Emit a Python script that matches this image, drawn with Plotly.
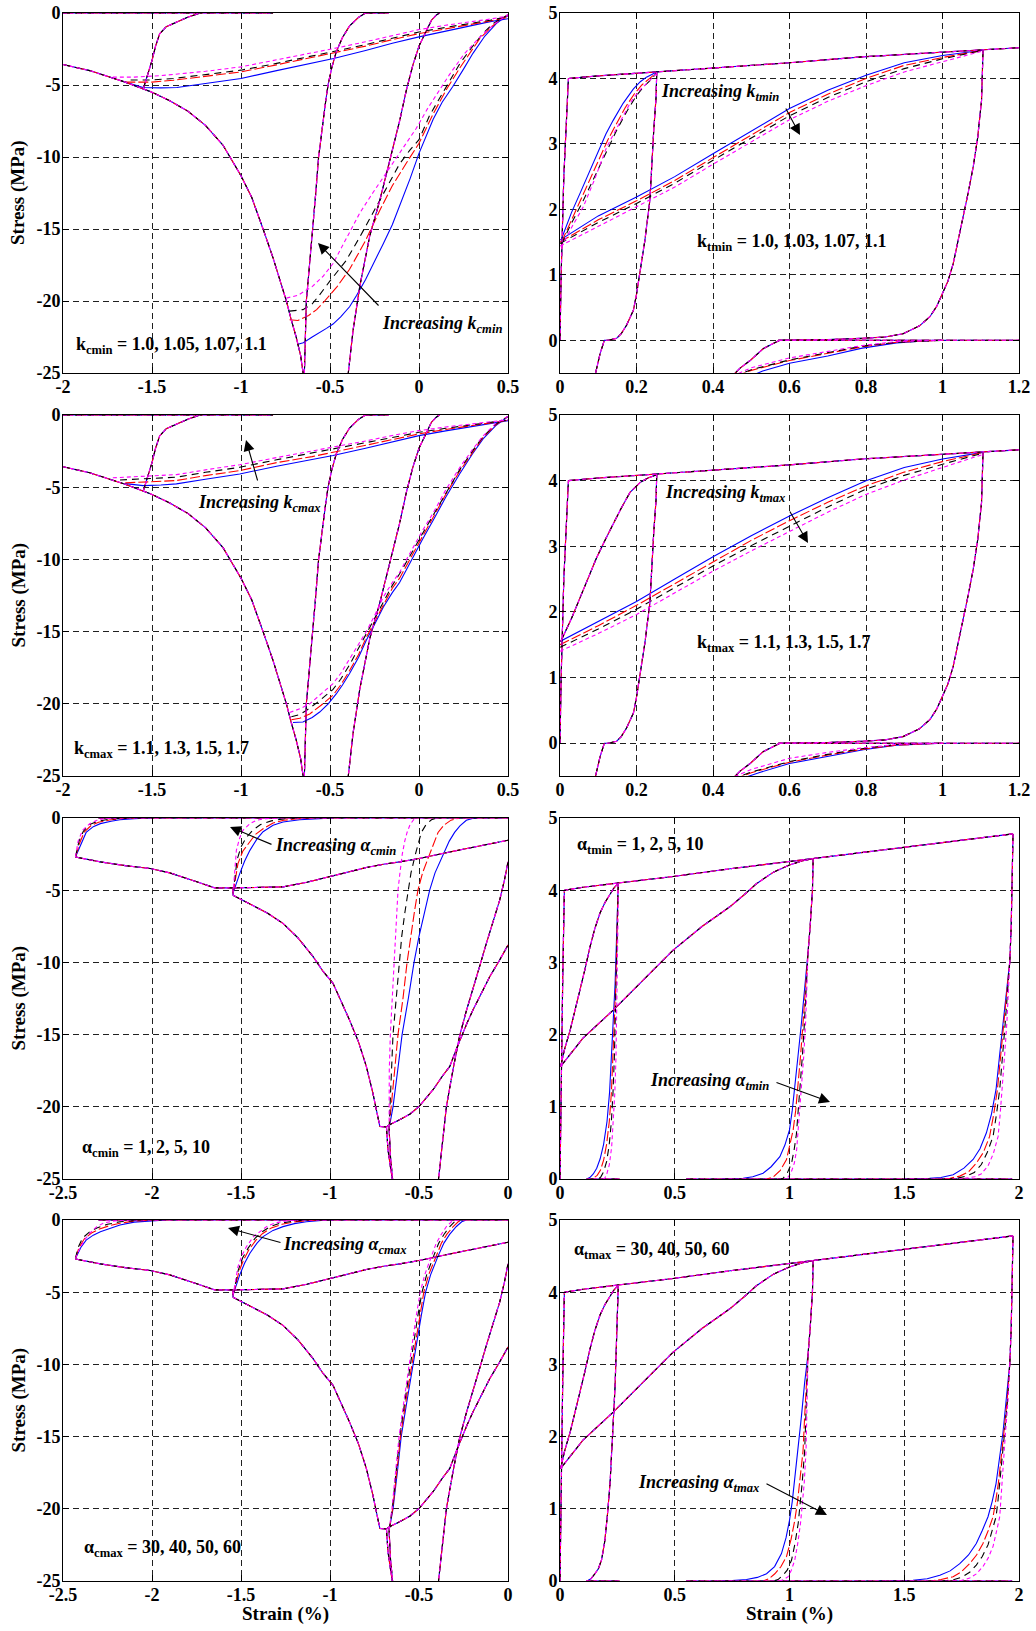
import plotly.graph_objects as go

W, H = 1036, 1631

COLORS = ["#0000ff", "#ff0000", "#000000", "#ff00ff"]
DASHES = ["solid", "10px,3px", "7px,5px", "4px,3px"]

# ================= compression panels, k parameters =================
ck_zero_a = [(-2.0, 0.0), (-0.82, 0.0)]
ck_zero_b = [(-0.30, 0.0), (-0.17, 0.0)]
ck_envelope = [(-2.0, -3.58), (-1.85, -4.0), (-1.65, -4.8), (-1.55, -5.3), (-1.5, -5.5),
               (-1.4, -6.1), (-1.3, -6.8), (-1.2, -7.8), (-1.1, -9.2), (-1.0, -11.3),
               (-0.94, -12.8), (-0.876, -15.0), (-0.82, -17.0), (-0.77, -19.0), (-0.745, -20.0),
               (-0.72, -21.2), (-0.69, -22.5), (-0.665, -23.8), (-0.645, -25.5)]
ck_unload = [(-0.645, -25.5), (-0.64, -23.0), (-0.633, -20.0), (-0.615, -17.5), (-0.596, -15.0),
             (-0.58, -12.5), (-0.564, -10.0), (-0.545, -8.0), (-0.525, -6.2), (-0.511, -5.0),
             (-0.49, -3.8), (-0.465, -2.7), (-0.43, -1.7), (-0.39, -0.9), (-0.34, -0.3), (-0.3, 0.0)]
ck_unload_upper = [(-1.55, -5.3), (-1.525, -4.3), (-1.5, -3.3), (-1.48, -2.3), (-1.457, -1.45),
                   (-1.42, -0.95), (-1.36, -0.62), (-1.3, -0.3), (-1.23, 0.0)]
ck_steep2 = [(-0.4, -25.3), (-0.37, -22.0), (-0.333, -19.0), (-0.277, -15.5), (-0.22, -13.0),
             (-0.184, -11.2), (-0.146, -9.2), (-0.109, -7.5), (-0.07, -5.3), (-0.034, -3.6),
             (0.0, -2.3), (0.041, -1.2), (0.07, -0.5), (0.097, -0.15), (0.115, 0.0)]

kcmin_reload_low = [
    [(-0.68, -23.0), (-0.65, -22.9), (-0.6, -22.5), (-0.558, -22.2), (-0.52, -21.9), (-0.483, -21.6),
     (-0.44, -21.1), (-0.39, -20.4), (-0.35, -19.6), (-0.3, -18.5), (-0.25, -17.3), (-0.2, -16.0),
     (-0.15, -14.7), (-0.109, -13.4), (-0.05, -11.5), (0.0, -9.75), (0.079, -7.4), (0.13, -6.2),
     (0.19, -5.1), (0.25, -3.9), (0.303, -2.8), (0.37, -1.6), (0.434, -0.74), (0.47, -0.4), (0.5, -0.2)],
    [(-0.727, -21.3), (-0.68, -21.35), (-0.62, -21.0), (-0.575, -20.6), (-0.53, -20.0), (-0.46, -19.0),
     (-0.39, -17.8), (-0.3, -15.8), (-0.22, -13.7), (-0.15, -12.0), (-0.07, -10.4), (0.0, -9.05),
     (0.08, -7.0), (0.15, -5.4), (0.23, -3.8), (0.29, -2.7), (0.34, -1.8), (0.4, -1.05), (0.45, -0.5),
     (0.5, -0.15)],
    [(-0.727, -20.7), (-0.652, -20.6), (-0.6, -20.2), (-0.56, -19.6), (-0.5, -18.6), (-0.41, -17.2),
     (-0.33, -15.5), (-0.26, -13.9), (-0.18, -12.0), (-0.11, -10.5), (-0.05, -9.5), (0.0, -8.8),
     (0.06, -7.1), (0.15, -5.2), (0.23, -3.5), (0.29, -2.5), (0.36, -1.4), (0.42, -0.7), (0.5, -0.12)],
    [(-0.745, -19.8), (-0.68, -19.6), (-0.6, -19.0), (-0.54, -18.3), (-0.483, -17.4), (-0.41, -15.7),
     (-0.333, -13.9), (-0.26, -12.5), (-0.2, -11.4), (-0.1, -9.6), (-0.015, -8.0), (0.05, -6.6),
     (0.17, -4.3), (0.25, -2.9), (0.34, -1.7), (0.42, -0.8), (0.5, -0.1)],
]
kcmin_reload_up = [
    [(-1.65, -4.8), (-1.55, -5.17), (-1.45, -5.2), (-1.36, -5.17), (-1.2, -4.9), (-1.0, -4.55),
     (-0.8, -4.0), (-0.6, -3.5), (-0.48, -3.16), (-0.3, -2.6), (-0.15, -2.1), (0.0, -1.66),
     (0.15, -1.25), (0.27, -0.97), (0.4, -0.6), (0.5, -0.4)],
    [(-1.65, -4.8), (-1.5, -4.8), (-1.38, -4.67), (-1.2, -4.4), (-1.0, -4.09), (-0.8, -3.6),
     (-0.6, -3.1), (-0.48, -2.77), (-0.3, -2.3), (-0.15, -1.85), (0.0, -1.43), (0.15, -1.1),
     (0.3, -0.8), (0.4, -0.55), (0.5, -0.3)],
    [(-1.62, -4.65), (-1.5, -4.65), (-1.38, -4.55), (-1.2, -4.3), (-1.0, -3.97), (-0.8, -3.5),
     (-0.6, -2.98), (-0.48, -2.63), (-0.3, -2.2), (-0.15, -1.75), (0.0, -1.32), (0.15, -1.0),
     (0.3, -0.72), (0.4, -0.5), (0.5, -0.25)],
    [(-1.72, -4.45), (-1.6, -4.45), (-1.45, -4.35), (-1.2, -4.05), (-1.0, -3.74), (-0.8, -3.25),
     (-0.6, -2.8), (-0.48, -2.47), (-0.3, -2.0), (-0.15, -1.55), (0.0, -1.15), (0.15, -0.85),
     (0.3, -0.6), (0.4, -0.42), (0.5, -0.2)],
]
kcmax_reload_low = [
    [(-0.708, -21.3), (-0.652, -21.26), (-0.6, -20.95), (-0.558, -20.57), (-0.51, -20.0), (-0.464, -19.3),
     (-0.43, -18.7), (-0.39, -17.9), (-0.34, -16.8), (-0.296, -15.6), (-0.25, -14.5), (-0.2, -13.3),
     (-0.15, -12.3), (-0.109, -11.6), (-0.07, -10.7), (-0.034, -9.85), (0.02, -8.6), (0.079, -7.3),
     (0.15, -5.7), (0.228, -4.08), (0.3, -2.7), (0.36, -1.65), (0.43, -0.75), (0.5, -0.1)],
    [(-0.717, -21.1), (-0.67, -21.0), (-0.614, -20.7), (-0.55, -20.1), (-0.483, -19.4), (-0.44, -18.7),
     (-0.39, -17.7), (-0.34, -16.6), (-0.296, -15.4), (-0.25, -14.3), (-0.2, -13.1), (-0.15, -12.0),
     (-0.109, -11.3), (-0.07, -10.4), (-0.034, -9.6), (0.02, -8.4), (0.079, -7.1), (0.15, -5.5),
     (0.228, -3.9), (0.3, -2.6), (0.36, -1.55), (0.43, -0.7), (0.5, -0.1)],
    [(-0.717, -20.9), (-0.67, -20.75), (-0.633, -20.46), (-0.56, -19.8), (-0.483, -19.0), (-0.44, -18.3),
     (-0.39, -17.3), (-0.34, -16.2), (-0.296, -15.15), (-0.25, -14.1), (-0.2, -12.9), (-0.15, -11.8),
     (-0.109, -11.0), (-0.07, -10.2), (-0.034, -9.4), (0.02, -8.2), (0.079, -6.95), (0.15, -5.35),
     (0.228, -3.8), (0.3, -2.5), (0.36, -1.5), (0.43, -0.65), (0.5, -0.1)],
    [(-0.727, -20.6), (-0.67, -20.35), (-0.614, -20.0), (-0.55, -19.3), (-0.483, -18.6), (-0.44, -17.9),
     (-0.39, -16.9), (-0.34, -15.9), (-0.296, -15.0), (-0.25, -13.9), (-0.2, -12.6), (-0.15, -11.6),
     (-0.109, -10.9), (-0.07, -10.0), (-0.034, -9.2), (0.02, -8.0), (0.079, -6.8), (0.15, -5.2),
     (0.228, -3.65), (0.3, -2.4), (0.36, -1.45), (0.43, -0.6), (0.5, -0.1)],
]
kcmax_reload_up = [
    [(-1.65, -4.75), (-1.55, -4.89), (-1.45, -4.85), (-1.363, -4.77), (-1.2, -4.45), (-1.007, -4.08),
     (-0.8, -3.55), (-0.6, -3.1), (-0.483, -2.81), (-0.3, -2.3), (-0.15, -1.85), (0.0, -1.43),
     (0.15, -1.1), (0.266, -0.85), (0.4, -0.58), (0.5, -0.39)],
    [(-1.65, -4.7), (-1.5, -4.62), (-1.363, -4.54), (-1.2, -4.2), (-1.007, -3.85), (-0.8, -3.3),
     (-0.6, -2.88), (-0.483, -2.58), (-0.3, -2.1), (-0.15, -1.7), (0.0, -1.31), (0.15, -1.0),
     (0.3, -0.75), (0.4, -0.55), (0.5, -0.37)],
    [(-1.68, -4.5), (-1.5, -4.4), (-1.363, -4.31), (-1.2, -3.97), (-1.007, -3.62), (-0.8, -3.1),
     (-0.6, -2.65), (-0.483, -2.35), (-0.3, -1.92), (-0.15, -1.55), (0.0, -1.2), (0.15, -0.92),
     (0.3, -0.68), (0.4, -0.5), (0.5, -0.35)],
    [(-1.72, -4.35), (-1.55, -4.25), (-1.363, -4.13), (-1.2, -3.8), (-1.007, -3.44), (-0.8, -2.95),
     (-0.6, -2.5), (-0.483, -2.24), (-0.3, -1.8), (-0.15, -1.42), (0.0, -1.08), (0.15, -0.83),
     (0.3, -0.62), (0.4, -0.47), (0.5, -0.33)],
]

# ================= tension panels, k parameters =================
tk_initial = [(0.0, 0.0), (0.003, 1.0), (0.01, 2.5), (0.022, 4.0)]
tk_envelope = [(0.022, 4.0), (0.1, 4.04), (0.253, 4.1), (0.4, 4.16), (0.6, 4.24), (0.79, 4.33),
               (1.0, 4.4), (1.106, 4.43), (1.2, 4.47)]
tk_unload1 = [(0.253, 4.1), (0.251, 3.7), (0.245, 3.2), (0.235, 2.14), (0.222, 1.53), (0.209, 1.02),
              (0.2, 0.7), (0.192, 0.46), (0.174, 0.23), (0.16, 0.1), (0.148, 0.03), (0.126, 0.0),
              (0.116, 0.0), (0.105, -0.2), (0.091, -0.55)]
tk_zero = [(0.57, 0.0), (1.2, 0.0)]
tk_unload2 = [(1.106, 4.43), (1.104, 4.0), (1.102, 3.66), (1.092, 3.1), (1.08, 2.64), (1.067, 2.25),
              (1.054, 1.88), (1.04, 1.5), (1.028, 1.17), (1.014, 0.9), (1.0, 0.71), (0.985, 0.52),
              (0.967, 0.36), (0.94, 0.22), (0.897, 0.1), (0.85, 0.05), (0.79, 0.03), (0.7, 0.01),
              (0.575, 0.0)]
tk_unload3 = [(0.575, 0.0), (0.56, -0.04), (0.531, -0.13), (0.497, -0.31), (0.47, -0.43), (0.45, -0.55)]
tk_reload1_common = [(0.002, 1.55), (0.03, 1.9), (0.052, 2.21), (0.075, 2.52), (0.096, 2.83),
                     (0.12, 3.12), (0.139, 3.34), (0.16, 3.58), (0.183, 3.82), (0.209, 3.97),
                     (0.23, 4.04), (0.253, 4.09)]

ktmin_reload1 = [
    [(0.004, 1.55), (0.03, 1.95), (0.052, 2.24), (0.075, 2.55), (0.096, 2.85), (0.12, 3.15),
     (0.139, 3.36), (0.165, 3.62), (0.192, 3.84), (0.21, 3.95), (0.226, 4.02), (0.253, 4.1)],
    [(0.004, 1.5), (0.03, 1.84), (0.056, 2.16), (0.08, 2.48), (0.102, 2.76), (0.125, 3.06),
     (0.145, 3.28), (0.17, 3.55), (0.195, 3.77), (0.214, 3.9), (0.232, 3.99), (0.253, 4.09)],
    [(0.004, 1.47), (0.03, 1.79), (0.058, 2.1), (0.084, 2.42), (0.107, 2.72), (0.13, 3.0),
     (0.15, 3.23), (0.175, 3.5), (0.199, 3.73), (0.218, 3.87), (0.236, 3.97), (0.253, 4.09)],
    [(0.004, 1.42), (0.03, 1.72), (0.061, 2.04), (0.09, 2.45), (0.122, 2.95), (0.15, 3.25),
     (0.183, 3.62), (0.205, 3.8), (0.226, 3.93), (0.24, 4.0), (0.253, 4.08)],
]
ktmin_reload2 = [
    [(0.0, 1.53), (0.1, 1.9), (0.2, 2.19), (0.3, 2.5), (0.4, 2.85), (0.5, 3.2), (0.6, 3.54),
     (0.7, 3.82), (0.8, 4.05), (0.9, 4.24), (1.0, 4.35), (1.106, 4.43)],
    [(0.0, 1.5), (0.1, 1.84), (0.2, 2.13), (0.3, 2.44), (0.4, 2.79), (0.5, 3.14), (0.6, 3.48),
     (0.7, 3.76), (0.8, 4.0), (0.9, 4.2), (1.0, 4.32), (1.106, 4.43)],
    [(0.0, 1.48), (0.1, 1.8), (0.2, 2.09), (0.3, 2.4), (0.4, 2.75), (0.5, 3.09), (0.6, 3.43),
     (0.7, 3.71), (0.8, 3.95), (0.9, 4.15), (1.0, 4.3), (1.106, 4.43)],
    [(0.0, 1.44), (0.1, 1.74), (0.2, 2.03), (0.3, 2.34), (0.4, 2.69), (0.5, 3.03), (0.6, 3.37),
     (0.7, 3.65), (0.8, 3.89), (0.9, 4.1), (1.0, 4.26), (1.106, 4.42)],
]
ktmin_reload_low = [
    [(0.497, -0.55), (0.53, -0.47), (0.6, -0.35), (0.7, -0.24), (0.79, -0.12), (0.88, -0.04),
     (0.95, -0.01), (1.0, 0.0)],
    [(0.46, -0.55), (0.5, -0.46), (0.6, -0.31), (0.7, -0.2), (0.79, -0.1), (0.88, -0.03),
     (0.95, -0.01), (1.0, 0.0)],
    [(0.455, -0.55), (0.5, -0.45), (0.6, -0.3), (0.7, -0.19), (0.79, -0.09), (0.88, -0.03), (1.0, 0.0)],
    [(0.45, -0.55), (0.5, -0.42), (0.6, -0.27), (0.7, -0.17), (0.79, -0.08), (0.88, -0.02), (1.0, 0.0)],
]
ktmax_reload2 = [
    [(0.0, 1.55), (0.1, 1.85), (0.2, 2.16), (0.3, 2.5), (0.4, 2.84), (0.5, 3.16), (0.6, 3.46),
     (0.7, 3.74), (0.8, 4.0), (0.9, 4.2), (1.0, 4.33), (1.106, 4.43)],
    [(0.0, 1.5), (0.1, 1.79), (0.2, 2.1), (0.3, 2.43), (0.4, 2.77), (0.5, 3.09), (0.6, 3.39),
     (0.7, 3.67), (0.8, 3.92), (0.9, 4.13), (1.0, 4.29), (1.106, 4.43)],
    [(0.0, 1.46), (0.1, 1.74), (0.2, 2.04), (0.3, 2.37), (0.4, 2.7), (0.5, 3.01), (0.6, 3.31),
     (0.7, 3.6), (0.8, 3.87), (0.9, 4.08), (1.0, 4.25), (1.106, 4.42)],
    [(0.0, 1.4), (0.1, 1.67), (0.2, 1.96), (0.3, 2.29), (0.4, 2.62), (0.5, 2.93), (0.6, 3.23),
     (0.7, 3.52), (0.8, 3.79), (0.9, 4.01), (1.0, 4.2), (1.106, 4.4)],
]
ktmax_reload_low = [
    [(0.47, -0.55), (0.52, -0.45), (0.6, -0.31), (0.7, -0.2), (0.793, -0.1), (0.88, -0.03),
     (0.95, -0.01), (1.0, 0.0)],
    [(0.455, -0.55), (0.5, -0.45), (0.6, -0.29), (0.7, -0.18), (0.793, -0.09), (0.88, -0.03), (1.0, 0.0)],
    [(0.45, -0.55), (0.5, -0.44), (0.6, -0.28), (0.7, -0.17), (0.793, -0.08), (0.88, -0.02), (1.0, 0.0)],
    [(0.44, -0.55), (0.5, -0.4), (0.6, -0.23), (0.7, -0.14), (0.793, -0.07), (0.88, -0.02), (1.0, 0.0)],
]

# ================= compression panels, alpha parameters =================
ca_zero = [(-2.3, 0.0), (0.0, 0.0)]
ca_envelope = [(-2.43, -2.7), (-2.29, -3.04), (-2.15, -3.3), (-2.01, -3.5), (-1.9, -3.8),
               (-1.826, -4.08), (-1.74, -4.45), (-1.648, -4.84), (-1.545, -4.84), (-1.545, -5.35)]
ca_env2 = [(-1.545, -5.35), (-1.433, -6.04), (-1.35, -6.6), (-1.264, -7.3), (-1.18, -8.3),
           (-1.095, -9.6), (-1.04, -10.6), (-0.983, -11.45), (-0.94, -12.6), (-0.89, -14.0),
           (-0.84, -15.5), (-0.796, -17.2), (-0.76, -19.0), (-0.72, -21.36), (-0.683, -21.4)]
ca_env_down = [(-0.683, -21.4), (-0.674, -23.0), (-0.66, -24.2), (-0.646, -25.3)]
ca_reload_bottom = [(-0.683, -21.4), (-0.665, -21.24), (-0.609, -20.9), (-0.55, -20.5), (-0.5, -19.98),
                    (-0.46, -19.4), (-0.42, -18.8), (-0.37, -17.9), (-0.327, -17.2), (-0.29, -16.0),
                    (-0.262, -15.1), (-0.23, -14.2), (-0.197, -13.3), (-0.15, -12.1), (-0.103, -11.0),
                    (-0.05, -9.9), (0.0, -8.8)]
ca_reload_upper = [(-1.545, -4.84), (-1.4, -4.82), (-1.264, -4.77), (-1.13, -4.45), (-1.0, -4.08),
                   (-0.9, -3.75), (-0.796, -3.43), (-0.7, -3.2), (-0.609, -3.04), (-0.5, -2.81),
                   (-0.327, -2.35), (-0.14, -1.89), (0.0, -1.54)]
ca_steep2 = [(-0.393, -25.3), (-0.37, -22.5), (-0.346, -19.98), (-0.31, -17.5), (-0.272, -15.1),
             (-0.235, -13.4), (-0.197, -11.9), (-0.16, -10.3), (-0.122, -8.7), (-0.085, -7.2),
             (-0.047, -5.7), (-0.02, -4.3), (0.0, -3.04)]
ca_steep_base = [(-0.646, -25.3), (-0.66, -23.5), (-0.668, -21.5)]

acmin_up_left = [
    [(-2.43, -2.7), (-2.4, -1.8), (-2.37, -1.0), (-2.33, -0.6), (-2.29, -0.39), (-2.23, -0.22),
     (-2.18, -0.12), (-2.1, -0.04), (-2.01, 0.0)],
    [(-2.43, -2.7), (-2.405, -1.7), (-2.38, -0.95), (-2.34, -0.5), (-2.3, -0.3), (-2.24, -0.14),
     (-2.18, -0.05), (-2.1, 0.0)],
    [(-2.43, -2.7), (-2.41, -1.6), (-2.385, -0.9), (-2.35, -0.45), (-2.31, -0.24), (-2.25, -0.1),
     (-2.18, -0.02), (-2.13, 0.0)],
    [(-2.43, -2.7), (-2.415, -1.6), (-2.39, -0.85), (-2.35, -0.4), (-2.31, -0.16), (-2.27, -0.05),
     (-2.2, 0.0)],
]
acmin_up_mid = [
    [(-1.545, -5.2), (-1.53, -4.6), (-1.507, -3.85), (-1.48, -3.0), (-1.45, -2.24), (-1.41, -1.45),
     (-1.376, -0.95), (-1.32, -0.5), (-1.264, -0.28), (-1.17, -0.12), (-1.08, -0.04), (-0.98, 0.0)],
    [(-1.545, -5.25), (-1.53, -4.2), (-1.517, -3.16), (-1.49, -2.3), (-1.46, -1.77), (-1.42, -1.15),
     (-1.376, -0.74), (-1.32, -0.35), (-1.26, -0.16), (-1.18, -0.05), (-1.1, 0.0)],
    [(-1.545, -5.25), (-1.535, -4.0), (-1.522, -2.9), (-1.5, -2.0), (-1.47, -1.35), (-1.43, -0.8),
     (-1.39, -0.45), (-1.33, -0.2), (-1.26, -0.06), (-1.18, 0.0)],
    [(-1.545, -5.3), (-1.535, -3.8), (-1.526, -2.24), (-1.508, -1.4), (-1.489, -0.85), (-1.45, -0.4),
     (-1.414, -0.16), (-1.36, -0.04), (-1.3, 0.0)],
]
acmin_steep = [
    [(-0.668, -21.5), (-0.646, -20.0), (-0.62, -17.5), (-0.595, -15.0), (-0.56, -12.5), (-0.528, -10.0),
     (-0.5, -8.2), (-0.47, -6.6), (-0.44, -5.0), (-0.41, -3.8), (-0.365, -2.5), (-0.33, -1.6),
     (-0.3, -1.0), (-0.27, -0.55), (-0.234, -0.16), (-0.2, -0.03), (-0.17, 0.0)],
    [(-0.668, -21.5), (-0.655, -20.0), (-0.637, -17.5), (-0.618, -15.0), (-0.59, -12.5), (-0.567, -10.0),
     (-0.548, -8.2), (-0.527, -6.6), (-0.506, -5.0), (-0.48, -3.8), (-0.44, -2.5), (-0.415, -1.7),
     (-0.393, -1.0), (-0.36, -0.5), (-0.32, -0.15), (-0.27, 0.0)],
    [(-0.668, -21.5), (-0.662, -20.0), (-0.655, -17.5), (-0.646, -15.0), (-0.628, -12.5), (-0.609, -10.0),
     (-0.597, -8.2), (-0.58, -6.6), (-0.562, -5.0), (-0.545, -3.8), (-0.52, -2.5), (-0.5, -1.6),
     (-0.487, -1.0), (-0.46, -0.45), (-0.43, -0.12), (-0.4, 0.0)],
    [(-0.668, -21.5), (-0.667, -17.5), (-0.661, -15.0), (-0.65, -12.5), (-0.637, -10.0), (-0.63, -7.5),
     (-0.618, -5.0), (-0.607, -3.8), (-0.594, -2.5), (-0.58, -1.6), (-0.567, -1.0), (-0.55, -0.45),
     (-0.53, -0.12), (-0.51, 0.0)],
]
acmax_up_left = [
    [(-2.43, -2.66), (-2.4, -1.9), (-2.37, -1.39), (-2.33, -1.05), (-2.29, -0.81), (-2.23, -0.55),
     (-2.18, -0.35), (-2.1, -0.15), (-2.01, -0.05), (-1.92, 0.0)],
    [(-2.43, -2.66), (-2.41, -1.9), (-2.38, -1.3), (-2.34, -0.9), (-2.3, -0.65), (-2.24, -0.4),
     (-2.18, -0.22), (-2.1, -0.08), (-2.0, 0.0)],
    [(-2.43, -2.66), (-2.415, -1.9), (-2.39, -1.25), (-2.35, -0.82), (-2.31, -0.55), (-2.25, -0.3),
     (-2.18, -0.12), (-2.1, -0.03), (-2.05, 0.0)],
    [(-2.43, -2.66), (-2.41, -2.08), (-2.38, -1.4), (-2.35, -0.92), (-2.31, -0.46), (-2.27, -0.2),
     (-2.2, -0.05), (-2.13, 0.0)],
]
acmax_up_mid = [
    [(-1.545, -5.2), (-1.53, -4.6), (-1.507, -3.8), (-1.48, -3.0), (-1.45, -2.3), (-1.41, -1.6),
     (-1.376, -1.15), (-1.32, -0.72), (-1.264, -0.46), (-1.2, -0.25), (-1.133, -0.12), (-1.05, -0.03),
     (-0.98, 0.0)],
    [(-1.545, -5.22), (-1.53, -4.4), (-1.512, -3.6), (-1.485, -2.75), (-1.455, -2.05), (-1.415, -1.38),
     (-1.38, -0.95), (-1.33, -0.55), (-1.27, -0.3), (-1.2, -0.13), (-1.12, -0.03), (-1.05, 0.0)],
    [(-1.545, -5.24), (-1.53, -4.25), (-1.515, -3.45), (-1.49, -2.6), (-1.46, -1.95), (-1.42, -1.25),
     (-1.385, -0.85), (-1.335, -0.45), (-1.28, -0.22), (-1.2, -0.07), (-1.12, 0.0)],
    [(-1.545, -5.25), (-1.53, -4.1), (-1.517, -3.23), (-1.495, -2.45), (-1.47, -1.85), (-1.43, -1.15),
     (-1.395, -0.81), (-1.35, -0.4), (-1.3, -0.18), (-1.24, -0.05), (-1.18, 0.0)],
]
acmax_steep = [
    [(-0.668, -21.5), (-0.646, -20.0), (-0.622, -17.5), (-0.6, -15.0), (-0.567, -12.5), (-0.534, -10.0),
     (-0.51, -8.2), (-0.487, -6.6), (-0.463, -5.0), (-0.435, -3.8), (-0.393, -2.5), (-0.36, -1.6),
     (-0.328, -1.0), (-0.29, -0.45), (-0.26, -0.12), (-0.234, 0.0)],
    [(-0.668, -21.5), (-0.648, -20.0), (-0.625, -17.5), (-0.604, -15.0), (-0.573, -12.5), (-0.541, -10.0),
     (-0.518, -8.2), (-0.496, -6.6), (-0.473, -5.0), (-0.446, -3.8), (-0.405, -2.5), (-0.374, -1.6),
     (-0.344, -1.0), (-0.308, -0.45), (-0.28, -0.12), (-0.253, 0.0)],
    [(-0.668, -21.5), (-0.65, -20.0), (-0.629, -17.5), (-0.608, -15.0), (-0.579, -12.5), (-0.549, -10.0),
     (-0.527, -8.2), (-0.506, -6.6), (-0.483, -5.0), (-0.457, -3.8), (-0.418, -2.5), (-0.389, -1.6),
     (-0.36, -1.0), (-0.327, -0.45), (-0.3, -0.12), (-0.272, 0.0)],
    [(-0.668, -21.5), (-0.652, -20.0), (-0.632, -17.5), (-0.612, -15.0), (-0.584, -12.5), (-0.556, -10.0),
     (-0.535, -8.2), (-0.515, -6.6), (-0.493, -5.0), (-0.468, -3.8), (-0.43, -2.5), (-0.403, -1.6),
     (-0.375, -1.0), (-0.346, -0.45), (-0.318, -0.12), (-0.29, 0.0)],
]

# ================= tension panels, alpha parameters =================
ta_initial = [(0.0, 0.0), (0.005, 1.5), (0.012, 2.8), (0.019, 4.0)]
ta_envelope = [(0.019, 4.0), (0.1, 4.04), (0.254, 4.1), (0.493, 4.19), (0.75, 4.3), (1.0, 4.4),
               (1.103, 4.44), (1.3, 4.52), (1.466, 4.58), (1.7, 4.67), (1.974, 4.78)]
ta_reload1 = [(0.003, 1.56), (0.02, 1.8), (0.044, 2.06), (0.065, 2.35), (0.087, 2.62), (0.11, 2.92),
              (0.131, 3.22), (0.152, 3.47), (0.174, 3.68), (0.196, 3.83), (0.218, 3.95), (0.235, 4.03),
              (0.254, 4.1)]
ta_reload2 = [(0.003, 1.56), (0.1, 1.95), (0.232, 2.34), (0.36, 2.75), (0.493, 3.17), (0.62, 3.5),
              (0.74, 3.77), (0.8, 3.93), (0.856, 4.09), (0.93, 4.25), (1.0, 4.35), (1.05, 4.4),
              (1.103, 4.44)]
ta_zero_a = [(0.116, 0.0), (0.26, 0.0)]
ta_zero_b = [(0.55, 0.0), (1.97, 0.0)]
ta_unload1_top = [(0.254, 4.1), (0.252, 3.9)]
ta_unload2_top = [(1.103, 4.44), (1.1, 4.0), (1.09, 3.5), (1.081, 3.15)]
ta_unload3_top = [(1.974, 4.78), (1.972, 4.4), (1.97, 4.0), (1.966, 3.5), (1.96, 3.02)]
atmax_unload1 = [(0.252, 3.9), (0.248, 3.4), (0.24, 2.7), (0.232, 2.2), (0.225, 1.7), (0.218, 1.35),
                 (0.206, 0.89), (0.195, 0.55), (0.181, 0.29), (0.167, 0.17), (0.152, 0.1),
                 (0.135, 0.03), (0.123, 0.01), (0.116, 0.0)]

atmin_unload1 = [
    [(0.252, 3.9), (0.248, 3.4), (0.24, 2.7), (0.232, 2.2), (0.225, 1.7), (0.216, 1.2), (0.205, 0.8),
     (0.19, 0.48), (0.175, 0.28), (0.16, 0.15), (0.145, 0.07), (0.13, 0.02), (0.116, 0.0)],
    [(0.252, 3.9), (0.249, 3.4), (0.243, 2.7), (0.237, 2.2), (0.231, 1.7), (0.224, 1.2), (0.215, 0.8),
     (0.203, 0.48), (0.19, 0.26), (0.176, 0.12), (0.162, 0.05), (0.148, 0.01), (0.14, 0.0)],
    [(0.253, 3.9), (0.25, 3.4), (0.246, 2.7), (0.242, 2.2), (0.237, 1.7), (0.231, 1.2), (0.224, 0.8),
     (0.214, 0.46), (0.203, 0.24), (0.19, 0.1), (0.178, 0.03), (0.168, 0.0)],
    [(0.254, 3.9), (0.252, 3.4), (0.25, 2.7), (0.247, 2.2), (0.244, 1.7), (0.239, 1.2), (0.233, 0.8),
     (0.225, 0.44), (0.215, 0.2), (0.204, 0.07), (0.195, 0.01), (0.188, 0.0)],
]
atmin_unload2 = [
    [(1.081, 3.15), (1.066, 2.6), (1.052, 2.16), (1.037, 1.7), (1.023, 1.24), (1.012, 0.95), (1.0, 0.68),
     (0.98, 0.47), (0.958, 0.31), (0.92, 0.17), (0.885, 0.08), (0.84, 0.03), (0.798, 0.01), (0.7, 0.0)],
    [(1.081, 3.15), (1.07, 2.6), (1.059, 2.16), (1.048, 1.7), (1.037, 1.24), (1.027, 0.95), (1.016, 0.68),
     (1.0, 0.45), (0.987, 0.27), (0.96, 0.12), (0.93, 0.03), (0.9, 0.0)],
    [(1.081, 3.15), (1.073, 2.6), (1.065, 2.16), (1.056, 1.7), (1.046, 1.24), (1.038, 0.95), (1.03, 0.62),
     (1.02, 0.4), (1.009, 0.22), (0.99, 0.08), (0.972, 0.01), (0.95, 0.0)],
    [(1.081, 3.15), (1.076, 2.6), (1.07, 2.16), (1.062, 1.7), (1.052, 1.24), (1.046, 0.95), (1.039, 0.62),
     (1.031, 0.4), (1.021, 0.22), (1.006, 0.08), (0.99, 0.01), (0.975, 0.0)],
]
atmin_unload3 = [
    [(1.96, 3.02), (1.945, 2.6), (1.93, 2.16), (1.915, 1.7), (1.9, 1.24), (1.88, 0.9), (1.858, 0.64),
     (1.83, 0.42), (1.8, 0.27), (1.76, 0.15), (1.713, 0.06), (1.66, 0.02), (1.61, 0.01), (1.5, 0.0)],
    [(1.96, 3.02), (1.948, 2.6), (1.935, 2.16), (1.92, 1.7), (1.906, 1.24), (1.89, 0.9), (1.872, 0.59),
     (1.845, 0.37), (1.814, 0.22), (1.78, 0.1), (1.742, 0.04), (1.7, 0.01), (1.65, 0.0)],
    [(1.96, 3.02), (1.951, 2.6), (1.94, 2.16), (1.928, 1.7), (1.916, 1.24), (1.902, 0.9), (1.887, 0.59),
     (1.862, 0.37), (1.836, 0.2), (1.805, 0.09), (1.771, 0.04), (1.73, 0.01), (1.7, 0.0)],
    [(1.96, 3.02), (1.955, 2.6), (1.947, 2.16), (1.937, 1.7), (1.927, 1.24), (1.918, 0.9), (1.909, 0.59),
     (1.888, 0.35), (1.865, 0.18), (1.835, 0.07), (1.807, 0.03), (1.77, 0.01), (1.74, 0.0)],
]
atmax_unload2 = [
    [(1.081, 3.15), (1.066, 2.75), (1.052, 2.28), (1.037, 1.8), (1.023, 1.35), (1.012, 1.1), (1.0, 0.84),
     (0.985, 0.6), (0.965, 0.38), (0.935, 0.2), (0.9, 0.1), (0.86, 0.05), (0.813, 0.02), (0.75, 0.005),
     (0.682, 0.0)],
    [(1.081, 3.15), (1.073, 2.75), (1.066, 2.28), (1.059, 1.8), (1.045, 1.35), (1.035, 1.1), (1.023, 0.84),
     (1.007, 0.58), (0.987, 0.34), (0.963, 0.2), (0.936, 0.1), (0.91, 0.03), (0.885, 0.0)],
    [(1.081, 3.15), (1.076, 2.75), (1.073, 2.28), (1.066, 1.8), (1.055, 1.35), (1.047, 1.1), (1.038, 0.8),
     (1.024, 0.52), (1.009, 0.29), (0.99, 0.15), (0.972, 0.08), (0.95, 0.02), (0.929, 0.0)],
    [(1.081, 3.15), (1.079, 2.75), (1.077, 2.28), (1.072, 1.8), (1.064, 1.35), (1.057, 1.1), (1.048, 0.8),
     (1.036, 0.52), (1.023, 0.29), (1.008, 0.15), (0.994, 0.06), (0.975, 0.02), (0.958, 0.0)],
]
atmax_unload3 = [
    [(1.96, 3.02), (1.945, 2.5), (1.93, 2.05), (1.915, 1.7), (1.9, 1.35), (1.883, 1.1), (1.865, 0.89),
     (1.84, 0.7), (1.814, 0.52), (1.78, 0.36), (1.742, 0.24), (1.7, 0.14), (1.655, 0.08), (1.6, 0.03),
     (1.538, 0.01), (1.393, 0.0)],
    [(1.96, 3.02), (1.948, 2.5), (1.934, 2.05), (1.922, 1.7), (1.91, 1.35), (1.898, 1.1), (1.887, 0.89),
     (1.866, 0.7), (1.843, 0.52), (1.815, 0.36), (1.785, 0.24), (1.75, 0.13), (1.713, 0.06), (1.66, 0.02),
     (1.61, 0.0)],
    [(1.96, 3.02), (1.95, 2.5), (1.937, 2.05), (1.927, 1.7), (1.917, 1.35), (1.908, 1.1), (1.9, 0.89),
     (1.884, 0.7), (1.865, 0.5), (1.84, 0.34), (1.814, 0.22), (1.785, 0.12), (1.749, 0.05), (1.71, 0.015),
     (1.669, 0.0)],
    [(1.96, 3.02), (1.952, 2.5), (1.941, 2.05), (1.933, 1.7), (1.925, 1.35), (1.92, 1.1), (1.916, 0.89),
     (1.903, 0.7), (1.887, 0.48), (1.866, 0.32), (1.843, 0.2), (1.815, 0.1), (1.785, 0.04), (1.75, 0.01),
     (1.713, 0.0)],
]

# ================= axes (tick values & labels) =================
ck_xticks = [-2, -1.5, -1, -0.5, 0, 0.5]
ck_xlabels = ["-2", "-1.5", "-1", "-0.5", "0", "0.5"]
c_yticks = [-25, -20, -15, -10, -5, 0]
c_ylabels = ["-25", "-20", "-15", "-10", "-5", "0"]
tk_xticks = [0, 0.2, 0.4, 0.6, 0.8, 1.0, 1.2]
tk_xlabels = ["0", "0.2", "0.4", "0.6", "0.8", "1", "1.2"]
t_yticks = [0, 1, 2, 3, 4, 5]
t_ylabels = ["0", "1", "2", "3", "4", "5"]
ca_xticks = [-2.5, -2, -1.5, -1, -0.5, 0]
ca_xlabels = ["-2.5", "-2", "-1.5", "-1", "-0.5", "0"]
ta_xticks = [0, 0.5, 1, 1.5, 2]
ta_xlabels = ["0", "0.5", "1", "1.5", "2"]

ck_common = [ck_zero_a, ck_zero_b, ck_envelope, ck_unload, ck_unload_upper, ck_steep2]
tk_common = [tk_initial, tk_envelope, tk_unload1, tk_zero, tk_unload2, tk_unload3]
ca_common = [ca_zero, ca_envelope, ca_env2, ca_env_down, ca_reload_bottom, ca_reload_upper,
             ca_steep2, ca_steep_base]
ta_common = [ta_initial, ta_envelope, ta_reload1, ta_reload2, ta_zero_a, ta_zero_b,
             ta_unload1_top, ta_unload2_top, ta_unload3_top]

CK_AX = dict(xr=[-2, 0.5], xt=ck_xticks, xl=ck_xlabels, yr=[-25, 0], yt=c_yticks, yl=c_ylabels)
TK_AX = dict(xr=[0, 1.2], xt=tk_xticks, xl=tk_xlabels, yr=[-0.5, 5], yt=t_yticks, yl=t_ylabels)
CA_AX = dict(xr=[-2.5, 0], xt=ca_xticks, xl=ca_xlabels, yr=[-25, 0], yt=c_yticks, yl=c_ylabels)
TA_AX = dict(xr=[0, 2], xt=ta_xticks, xl=ta_xlabels, yr=[0, 5], yt=t_yticks, yl=t_ylabels)

COL_PX = [(63, 508), (560, 1019)]
ROW_PX = [(13, 373), (415, 776), (818, 1179), (1220, 1581)]

panels = [
    dict(r=0, c=0, ax=CK_AX, common=ck_common, var=[kcmin_reload_low, kcmin_reload_up]),
    dict(r=0, c=1, ax=TK_AX, common=tk_common, var=[ktmin_reload1, ktmin_reload2, ktmin_reload_low]),
    dict(r=1, c=0, ax=CK_AX, common=ck_common, var=[kcmax_reload_low, kcmax_reload_up]),
    dict(r=1, c=1, ax=TK_AX, common=tk_common + [tk_reload1_common], var=[ktmax_reload2, ktmax_reload_low]),
    dict(r=2, c=0, ax=CA_AX, common=ca_common, var=[acmin_up_left, acmin_up_mid, acmin_steep]),
    dict(r=2, c=1, ax=TA_AX, common=ta_common, var=[atmin_unload1, atmin_unload2, atmin_unload3]),
    dict(r=3, c=0, ax=CA_AX, common=ca_common, var=[acmax_up_left, acmax_up_mid, acmax_steep]),
    dict(r=3, c=1, ax=TA_AX, common=ta_common + [atmax_unload1], var=[atmax_unload2, atmax_unload3]),
]

FONT = "Liberation Serif"
tickfont = dict(family=FONT, size=18, color="black", weight="bold")

fig = go.Figure()
layout = {}
for i, p in enumerate(panels):
    sfx = "" if i == 0 else str(i + 1)
    for s in range(4):
        xs, ys = [], []
        for br in list(p["common"]) + [v[s] for v in p["var"]]:
            xs += [pt[0] for pt in br] + [None]
            ys += [pt[1] for pt in br] + [None]
        fig.add_trace(go.Scatter(x=xs, y=ys, mode="lines", xaxis="x" + sfx, yaxis="y" + sfx,
                                 line=dict(color=COLORS[s], width=1.1, dash=DASHES[s]),
                                 showlegend=False, hoverinfo="skip"))
    x0, x1 = COL_PX[p["c"]]
    y0, y1 = ROW_PX[p["r"]]
    a = p["ax"]
    common_axis = dict(showgrid=True, gridcolor="#202020", griddash="6px,4px", gridwidth=1,
                       zeroline=False, showline=True, linecolor="black", linewidth=1,
                       mirror="ticks", ticks="inside", ticklen=6, tickcolor="black",
                       tickfont=tickfont, automargin=False)
    layout["xaxis" + sfx] = dict(domain=[x0 / W, x1 / W], anchor="y" + sfx, range=a["xr"],
                                 tickvals=a["xt"], ticktext=a["xl"], ticklabelstandoff=-3,
                                 **common_axis)
    layout["yaxis" + sfx] = dict(domain=[1 - y1 / H, 1 - y0 / H], anchor="x" + sfx, range=a["yr"],
                                 tickvals=a["yt"], ticktext=a["yl"], ticklabelstandoff=-2,
                                 **common_axis)

annotations = []
TEXTS = [
    ("<b><i>Increasing k<sub>cmin</sub></i></b>", 442, 325, "center"),
    ("<b>k<sub>cmin</sub> = 1.0, 1.05, 1.07, 1.1</b>", 74, 346, "left"),
    ("<b><i>Increasing k<sub>tmin</sub></i></b>", 720, 93, "center"),
    ("<b>k<sub>tmin</sub> = 1.0, 1.03, 1.07, 1.1</b>", 695, 243, "left"),
    ("<b><i>Increasing k<sub>cmax</sub></i></b>", 259, 503, "center"),
    ("<b>k<sub>cmax</sub> = 1.1, 1.3, 1.5, 1.7</b>", 72, 750, "left"),
    ("<b><i>Increasing k<sub>tmax</sub></i></b>", 725, 493, "center"),
    ("<b>k<sub>tmax</sub> = 1.1, 1.3, 1.5, 1.7</b>", 695, 643, "left"),
    ("<b><i>Increasing α<sub>cmin</sub></i></b>", 335, 846, "center"),
    ("<b>α<sub>cmin</sub> = 1, 2, 5, 10</b>", 80, 1148, "left"),
    ("<b><i>Increasing α<sub>tmin</sub></i></b>", 709, 1081, "center"),
    ("<b>α<sub>tmin</sub> = 1, 2, 5, 10</b>", 575, 845, "left"),
    ("<b><i>Increasing α<sub>cmax</sub></i></b>", 344, 1245, "center"),
    ("<b>α<sub>cmax</sub> = 30, 40, 50, 60</b>", 82, 1548, "left"),
    ("<b><i>Increasing α<sub>tmax</sub></i></b>", 698, 1483, "center"),
    ("<b>α<sub>tmax</sub> = 30, 40, 50, 60</b>", 572, 1250, "left"),
]
for txt, px, py, anc in TEXTS:
    annotations.append(dict(text=txt, x=px / W, y=1 - py / H, xref="paper", yref="paper",
                            xanchor=anc, yanchor="middle", showarrow=False,
                            font=dict(family=FONT, size=18, color="black")))

ARROWS = [(318, 243, 380, 307), (800, 135, 785, 107), (246, 440, 258, 482), (808, 543, 789, 510),
          (230, 827, 273, 845), (830, 1102, 775, 1082), (228, 1228, 282, 1243), (827, 1515, 765, 1483)]
for tx, ty, sx, sy in ARROWS:
    annotations.append(dict(text="", x=tx / W, y=1 - ty / H, xref="paper", yref="paper",
                            ax=sx - tx, ay=sy - ty, showarrow=True, arrowhead=2, arrowsize=2,
                            arrowwidth=1.1, arrowcolor="black"))

for (y0, y1) in ROW_PX:
    annotations.append(dict(text="<b>Stress (MPa)</b>", x=18 / W, y=1 - (y0 + y1) / 2 / H,
                            xref="paper", yref="paper", textangle=-90, showarrow=False,
                            xanchor="center", yanchor="middle",
                            font=dict(family=FONT, size=19, color="black")))
for (x0, x1) in COL_PX:
    annotations.append(dict(text="<b>Strain (%)</b>", x=(x0 + x1) / 2 / W, y=1 - 1614 / H,
                            xref="paper", yref="paper", showarrow=False,
                            xanchor="center", yanchor="middle",
                            font=dict(family=FONT, size=19, color="black")))

fig.update_layout(width=W, height=H, margin=dict(l=0, r=0, t=0, b=0, autoexpand=False),
                  paper_bgcolor="white", plot_bgcolor="white",
                  annotations=annotations, **layout)
fig.write_html("out.html")
